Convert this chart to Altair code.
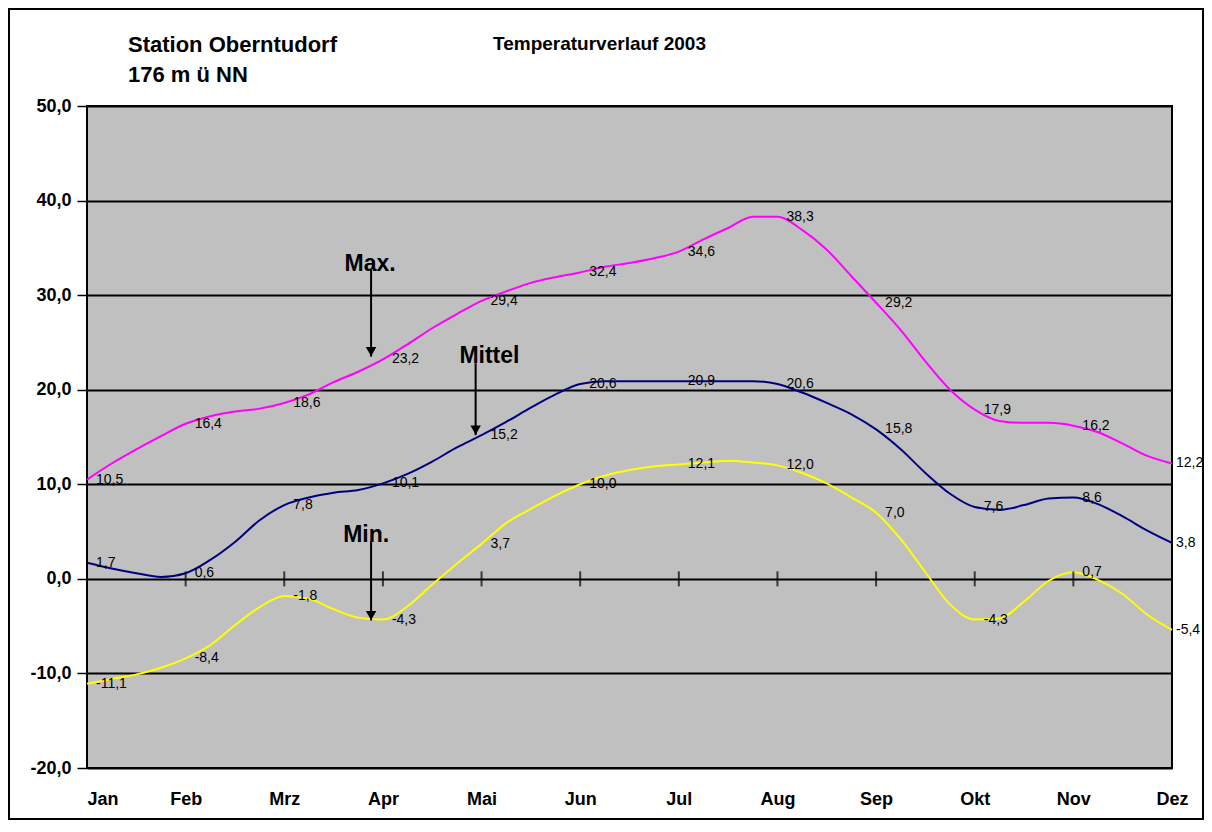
import altair as alt
import pandas as pd

FONT = "Liberation Sans"

months = ["Jan", "Feb", "Mrz", "Apr", "Mai", "Jun", "Jul", "Aug", "Sep", "Okt", "Nov", "Dez"]
series_names = ["Max.", "Mittel", "Min."]
series_colors = ["#FF00FF", "#000080", "#FFFF00"]

# curve positions in months (0 = Jan ... 11 = Dez), read every quarter month
pos = [i / 4 for i in range(45)]

max_vals = [10.5, 12.2, 13.7, 15.1, 16.4, 17.2, 17.7, 18.0, 18.6, 19.5, 20.8, 21.9,
            23.2, 24.8, 26.5, 28.0, 29.4, 30.4, 31.3, 31.9, 32.4, 33.0, 33.4, 33.9,
            34.6, 35.9, 37.1, 38.3, 38.3, 36.9, 34.8, 32.0, 29.2, 26.3, 23.0, 20.0,
            17.9, 16.7, 16.5, 16.5, 16.2, 15.5, 14.3, 13.0, 12.2]
mittel_vals = [1.7, 1.1, 0.6, 0.2, 0.6, 2.0, 3.9, 6.2, 7.8, 8.6, 9.1, 9.4,
               10.1, 11.1, 12.4, 13.9, 15.2, 16.6, 18.1, 19.5, 20.6, 20.9, 20.9, 20.9,
               20.9, 20.9, 20.9, 20.9, 20.6, 19.7, 18.6, 17.4, 15.8, 13.7, 11.2, 9.0,
               7.6, 7.3, 7.8, 8.5, 8.6, 7.9, 6.6, 5.1, 3.8]
min_vals = [-11.1, -10.6, -10.1, -9.4, -8.4, -7.0, -4.9, -3.0, -1.8, -2.1, -3.2, -4.1,
            -4.3, -2.9, -0.6, 1.6, 3.7, 5.9, 7.4, 8.8, 10.0, 10.9, 11.5, 11.9,
            12.1, 12.3, 12.5, 12.3, 12.0, 11.2, 10.1, 8.6, 7.0, 4.2, 0.7, -2.7,
            -4.3, -4.2, -2.4, -0.2, 0.7, -0.1, -1.6, -3.8, -5.4]

# monthly data labels
max_labels = [10.5, 16.4, 18.6, 23.2, 29.4, 32.4, 34.6, 38.3, 29.2, 17.9, 16.2, 12.2]
mittel_labels = [1.7, 0.6, 7.8, 10.1, 15.2, 20.6, 20.9, 20.6, 15.8, 7.6, 8.6, 3.8]
min_labels = [-11.1, -8.4, -1.8, -4.3, 3.7, 10.0, 12.1, 12.0, 7.0, -4.3, 0.7, -5.4]

# annotations (month position, value)
ann_text = ["Max.", "Mittel", "Min."]
ann_text_x = [2.87, 4.08, 2.83]
ann_text_y = [32.6, 22.8, 3.9]
arrow_x = [2.88, 3.94, 2.88]
arrow_from = [32.7, 22.8, 4.0]
arrow_to = [23.5, 15.2, -4.4]

header_text = "Station Oberntudorf\n176 m ü NN"
chart_title = "Temperaturverlauf 2003"
y_ticks = [-20, -10, 0, 10, 20, 30, 40, 50]

W, H = 1085, 662
PAD = {"left": 79, "top": 98, "right": 32, "bottom": 52}

# ---- tables ----
rows = []
for name, vals in zip(series_names, [max_vals, mittel_vals, min_vals]):
    for t, v in zip(pos, vals):
        rows.append({"t": t, "value": v, "series": name})
df_lines = pd.DataFrame(rows)

lab_rows = []
for name, vals in zip(series_names, [max_labels, mittel_labels, min_labels]):
    for i, v in enumerate(vals):
        lab_rows.append({"t": i, "value": v, "series": name,
                         "label": f"{v:.1f}".replace(".", ",")})
df_labels = pd.DataFrame(lab_rows)
last = len(months) - 1
df_labels_main = df_labels[df_labels["t"] < last]
df_labels_last = df_labels[df_labels["t"] == last]

df_ticks = pd.DataFrame({"t": list(range(len(months))), "value": [0] * len(months)})
df_ann = pd.DataFrame({"text": ann_text, "tx": ann_text_x, "ty": ann_text_y,
                       "ax": arrow_x, "a0": arrow_from, "a1": arrow_to})

month_expr = "[" + ",".join(f"'{m}'" for m in months) + "][datum.value]"

x_enc = alt.X("t:Q", scale=alt.Scale(domain=[0, 11], nice=False, zero=False),
              axis=alt.Axis(values=list(range(12)), labelExpr=month_expr, ticks=False,
                            grid=False, domain=False, labelPadding=22, labelFont=FONT,
                            labelFontSize=18, labelFontWeight="bold", labelColor="black",
                            labelFlush=False,
                            labelAlign={"condition": {"test": "datum.value == 0", "value": "left"},
                                        "value": "center"},
                            title=None, labelAngle=0))
y_enc = alt.Y("value:Q", scale=alt.Scale(domain=[-20, 50], nice=False),
              axis=alt.Axis(values=y_ticks,
                            labelExpr="replace(replace(format(datum.value, '.1f'), '.', ','), '\u2212', '-')",
                            tickSize=10, tickColor="black", tickWidth=1.5, labelPadding=6,
                            grid=True, gridColor="black", gridWidth=2, domain=False,
                            labelFont=FONT, labelFontSize=18, labelFontWeight="bold",
                            labelColor="black", title=None))

color_enc = alt.Color("series:N", scale=alt.Scale(domain=series_names, range=series_colors),
                      legend=None)

lines = alt.Chart(df_lines).mark_line(interpolate="monotone", strokeWidth=2).encode(
    x=x_enc, y=y_enc, color=color_enc)

ticks = alt.Chart(df_ticks).mark_tick(orient="vertical", size=15, thickness=2,
                                      color="black").encode(x="t:Q", y="value:Q")

labels = alt.Chart(df_labels_main).mark_text(align="left", baseline="middle", dx=9, fontSize=14,
                                             font=FONT, color="black").encode(
    x="t:Q", y="value:Q", text="label:N")
labels_last = alt.Chart(df_labels_last).mark_text(align="left", baseline="middle", dx=4,
                                                  fontSize=14, font=FONT, color="black").encode(
    x="t:Q", y="value:Q", text="label:N")

ann_txt = alt.Chart(df_ann).mark_text(align="center", baseline="alphabetic", fontSize=23,
                                      fontWeight="bold", font=FONT, color="black").encode(
    x="tx:Q", y="ty:Q", text="text:N")
ann_rule = alt.Chart(df_ann).mark_rule(strokeWidth=2, color="black").encode(
    x="ax:Q", y="a0:Q", y2="a1:Q")
ann_head = alt.Chart(df_ann).mark_point(shape="triangle-down", filled=True, size=110,
                                        color="black", opacity=1, yOffset=-5).encode(
    x="ax:Q", y="a1:Q")

one = pd.DataFrame({"a": [0]})
header = alt.Chart(one).mark_text(align="left", baseline="alphabetic", fontSize=22,
                                  fontWeight="bold", font=FONT, color="black",
                                  lineBreak="\n", lineHeight=30).encode(
    x=alt.value(41), y=alt.value(-54), text=alt.value(header_text))
title = alt.Chart(one).mark_text(align="left", baseline="alphabetic", fontSize=19,
                                 fontWeight="bold", font=FONT, color="black").encode(
    x=alt.value(406), y=alt.value(-56), text=alt.value(chart_title))
frame = alt.Chart(one).mark_rect(fillOpacity=0, stroke="black", strokeWidth=2).encode(
    x=alt.value(-PAD["left"] + 1), x2=alt.value(W + PAD["right"] - 1),
    y=alt.value(-PAD["top"] + 1), y2=alt.value(H + PAD["bottom"] - 1))

chart = alt.layer(frame, lines, ticks, labels, labels_last, ann_rule, ann_head, ann_txt,
                  header, title).properties(
    width=W, height=H, padding=PAD, autosize=alt.AutoSizeParams(type="none"),
    background="white"
).configure(font=FONT).configure_view(fill="#C0C0C0", stroke="black", strokeWidth=2)

chart.save("out.html", embed_options={"renderer": "svg", "actions": False})
